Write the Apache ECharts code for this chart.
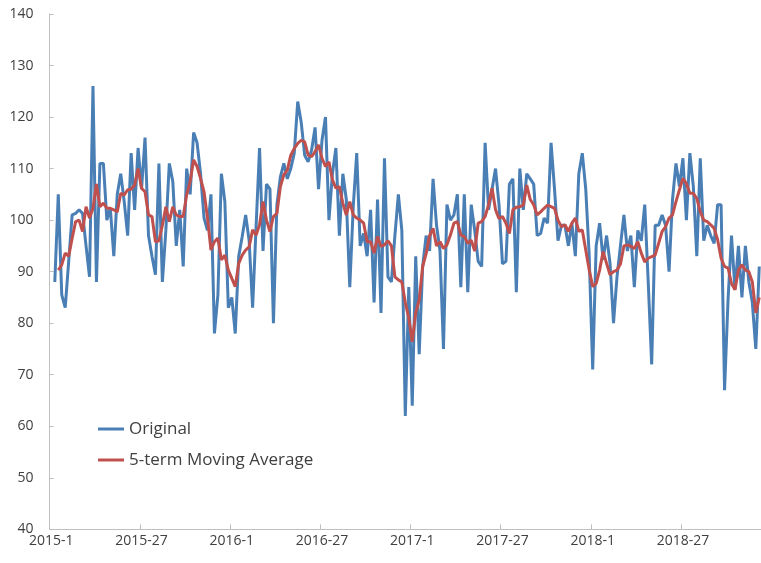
<!DOCTYPE html>
<html>
<head>
<meta charset="utf-8">
<script src="https://cdn.jsdelivr.net/npm/echarts@6/dist/echarts.min.js"></script>
<style>
html,body{margin:0;padding:0;background:#fff;}
#c{width:761px;height:563px;}
</style>
</head>
<body>
<div id="c"></div>
<script>
// Tick-label years and weeks (52 weekly categories per year); picture ends at 2018-49
const years = [2015, 2016, 2017, 2018];
const weeksPerYear = 52;

const seriesNames = ['Original', '5-term Moving Average'];

const original = [
  null, 88, 105, 85.5, 83, 92, 101, 101.3, 102, 101.3,
  95, 89, 126, 88, 111, 111, 100, 102.3, 93, 105,
  109, 103.6, 97, 113, 102, 114, 106, 116, 97, 93,
  89.4, 111, 88, 98, 111, 107.5, 95, 102, 91, 110,
  105, 117, 115, 109, 100.4, 98, 105, 78, 85.5, 109,
  103.6, 83, 85, 78, 93, 96.8, 101, 96, 83, 98.7,
  114, 94, 107, 106, 80, 103, 108.4, 111, 108, 110,
  113, 123, 119, 112.6, 111.3, 113.6, 118, 106, 115.5, 120,
  100, 109, 114, 97, 109, 104, 87, 102.6, 113, 95,
  97.4, 93, 102, 84, 104, 82, 112, 89, 88, 97,
  105, 98, 62, 87, 64, 93, 74, 91, 97, 94,
  108, 99, 94, 75, 103, 100, 101, 105, 87, 105,
  86, 103, 98, 92, 91, 115, 102, 106, 110, 103,
  91.5, 92, 107, 108, 86, 110, 102, 109, 108, 107,
  97, 97.4, 100.4, 99.4, 115, 106, 96, 99, 99, 95,
  99.4, 93, 109, 113, 106, 93, 71, 95, 99.4, 92.3,
  97, 91.6, 80, 89, 95, 101, 94, 97, 87, 98,
  96, 103, 88, 72, 99, 99, 101, 99, 90, 104,
  111, 106.5, 112, 100, 113, 106.5, 93, 112, 96, 99,
  97, 95.5, 103, 103, 67, 84.5, 97, 86.5, 95, 85,
  95, 88, 84, 75, 91
];

const movingAvg = [
  null, null, 90.3, 91.3, 93.6, 93, 96.5, 99.7, 100, 97.8,
  102.6, 100.4, 102.3, 107, 102.6, 103.3, 102.3, 102.3, 102, 101.6,
  105.2, 104.9, 105.9, 106, 106.8, 110, 106.2, 105.5, 101, 100.7,
  95.8, 96, 99, 102.6, 99.7, 102.6, 101, 100.7, 100.7, 104.9,
  107.5, 111.7, 110.4, 108.1, 105.5, 100.4, 94.2, 95.8, 96.5, 92.3,
  93.2, 90.3, 88.7, 87.1, 91.6, 93.2, 94.2, 94.8, 98.1, 97.1,
  99.1, 103.6, 100, 97.8, 100.7, 101.3, 106.5, 108.8, 109.7, 112.6,
  113.9, 114.9, 115.5, 115.2, 112.6, 112.3, 113.3, 114.6, 112, 110.4,
  111.3, 107.8, 106.2, 106.5, 103.3, 101, 103.6, 101, 100.4, 100,
  99.4, 95.8, 95.8, 93.6, 96.8, 94.9, 95.2, 96, 95, 89,
  88.4, 88, 84, 81, 76.4, 82, 84.5, 91, 93.5, 97,
  98.4, 95, 95.8, 94.5, 95.2, 97.1, 99.4, 99.7, 97.1, 96.8,
  95.5, 96.1, 94, 99.4, 99.7, 100.7, 103, 106.2, 102, 100.3,
  100.7, 99.4, 97.4, 102, 102.5, 102.6, 102.9, 106.8, 104, 103,
  101, 101.6, 102.3, 102.9, 102.6, 102.3, 100, 98.7, 99.1, 97.8,
  99.4, 100.4, 97.8, 98.1, 94.2, 90.3, 87.1, 87.7, 90.3, 93.9,
  91.6, 89.4, 90, 90.3, 91.5, 95, 95.2, 94.9, 94.5, 95.8,
  93.6, 91.9, 92.6, 92.9, 93.2, 95.5, 97.8, 98.7, 100.4, 101,
  103.6, 105.9, 108.1, 107.1, 105.2, 105.2, 104.2, 101.6, 100, 99.7,
  99.1, 98.4, 96.2, 92.6, 91, 90.7, 87.7, 86.5, 90.3, 91.3,
  90.3, 90, 88, 82, 85
];

const allWeeks = [];
years.forEach(y => { for (let w = 1; w <= weeksPerYear; w++) allWeeks.push(y + '-' + w); });
const categories = allWeeks.slice(0, original.length);

const chart = echarts.init(document.getElementById('c'), null, {renderer: 'canvas'});
const textColor = '#404040';
const axisColor = '#bfbfbf';
const font = '"Open Sans", "Noto Sans", sans-serif';

chart.setOption({
  animation: false,
  backgroundColor: '#ffffff',
  grid: {left: 49.6, top: 14, right: 0, height: 515.3, containLabel: false},
  legend: {
    orient: 'vertical',
    left: 98, top: 419, padding: 0,
    itemWidth: 26, itemHeight: 3, itemGap: 11,
    icon: 'rect',
    textStyle: {color: textColor, fontSize: 17, fontFamily: font, lineHeight: 20},
    data: seriesNames
  },
  xAxis: {
    type: 'category',
    data: categories,
    boundaryGap: true,
    axisLine: {show: true, lineStyle: {color: axisColor, width: 1}},
    axisTick: {show: true, inside: true, length: 5, interval: 25, lineStyle: {color: axisColor}},
    axisLabel: {interval: 25, color: textColor, fontSize: 14, fontFamily: font, margin: 5},
    splitLine: {show: false}
  },
  yAxis: {
    type: 'value',
    min: 40, max: 140, interval: 10,
    axisLine: {show: true, lineStyle: {color: axisColor, width: 1}},
    axisTick: {show: true, inside: true, length: 4, lineStyle: {color: axisColor}},
    axisLabel: {color: textColor, fontSize: 14, fontFamily: font, margin: 16},
    splitLine: {show: false}
  },
  series: [
    {
      name: seriesNames[0], type: 'line', data: original,
      symbol: 'none', showSymbol: false,
      lineStyle: {color: '#4a7fb5', width: 3}, itemStyle: {color: '#4a7fb5'},
      z: 2
    },
    {
      name: seriesNames[1], type: 'line', data: movingAvg,
      symbol: 'none', showSymbol: false,
      lineStyle: {color: '#c0504d', width: 3}, itemStyle: {color: '#c0504d'},
      z: 3
    }
  ]
});
</script>
</body>
</html>
